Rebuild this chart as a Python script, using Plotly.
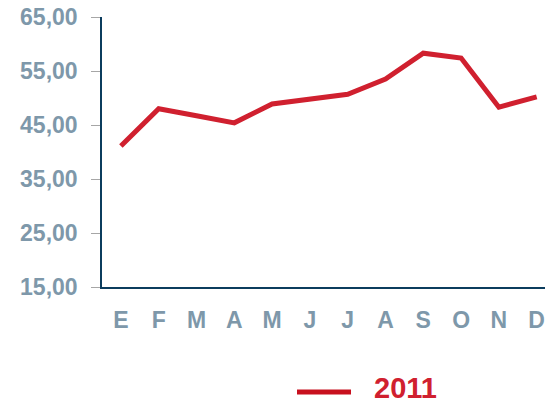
import plotly.graph_objects as go

months = ["E", "F", "M", "A", "M", "J", "J", "A", "S", "O", "N", "D"]
values_2011 = [41.1, 48.0, 46.7, 45.4, 48.9, 49.8, 50.7, 53.5, 58.3, 57.4, 48.3, 50.2]
series_name = "2011"
y_ticks = [15, 25, 35, 45, 55, 65]

RED = "#D0202F"
LABEL = "#7E98AA"
NAVY = "#0B3C5D"

x_idx = list(range(len(months)))

fig = go.Figure()
fig.add_trace(go.Scatter(
    x=x_idx, y=values_2011, mode="lines", name=series_name,
    line=dict(color=RED, width=5), showlegend=False,
))

font_tick = dict(family="Arial, Liberation Sans, sans-serif", size=23, color=LABEL, weight="bold")

# page body has an 8px margin; the figure is sized/offset to compensate
fig.update_layout(
    width=537, height=390,
    margin=dict(l=94, r=0, t=9, b=111),
    paper_bgcolor="white", plot_bgcolor="white",
    separators=",.",
    xaxis=dict(
        tickmode="array", tickvals=x_idx, ticktext=months,
        range=[-0.5, 11.22], showgrid=False, zeroline=False,
        showline=True, linecolor=NAVY, linewidth=1.5,
        ticks="", tickfont=font_tick, ticklabelstandoff=12,
        ticklabeloverflow="allow", automargin=False,
    ),
    yaxis=dict(
        range=[15, 65], tickvals=y_ticks, tickformat=".2f",
        showgrid=False, zeroline=False,
        showline=True, linecolor=NAVY, linewidth=1.5,
        ticks="outside", ticklen=9, tickcolor="#A6A6A6", tickwidth=1,
        tickfont=font_tick, ticklabelstandoff=9,
        ticklabeloverflow="allow", automargin=False,
    ),
)

# legend drawn as line + text
fig.add_shape(type="line", xref="paper", yref="paper",
              x0=0.4402, x1=0.5621, y0=-0.3889, y1=-0.3889,
              line=dict(color="#C8101E", width=5))
fig.add_annotation(xref="paper", yref="paper", x=0.6095, y=-0.374,
                   xanchor="left", yanchor="middle", text=series_name, showarrow=False,
                   font=dict(family="Arial, Liberation Sans, sans-serif", size=29, color=RED, weight="bold"))

fig.write_html("out.html")
